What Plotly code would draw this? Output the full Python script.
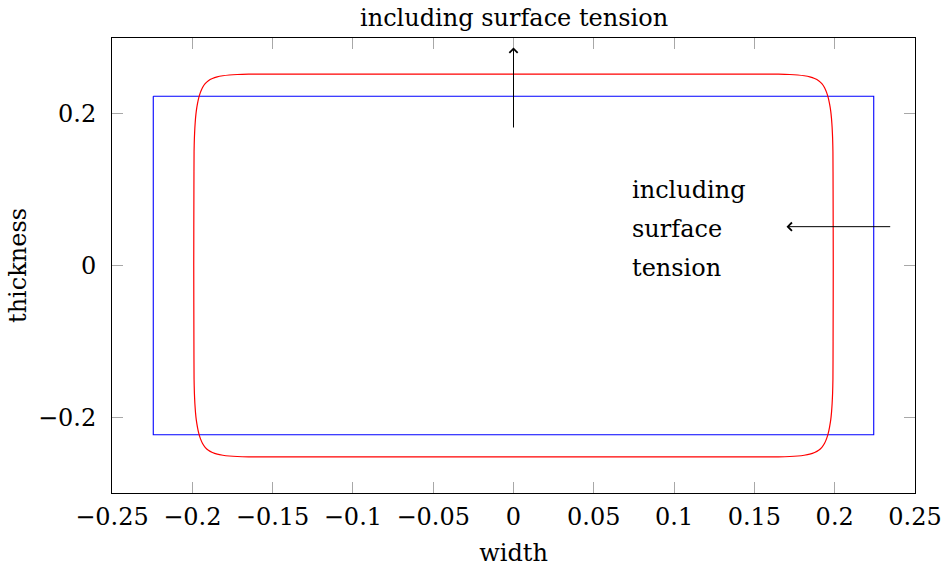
import plotly.graph_objects as go

# Cross-section without surface tension: a plain rectangle (half-width, half-thickness)
rect_half_width = 0.2243
rect_half_thickness = 0.2232

# Cross-section including surface tension: one quadrant of the contour,
# running from the top centre to the right-hand side centre
quad_x = [0.0, 0.100, 0.165, 0.172, 0.177, 0.181, 0.1845, 0.1875, 0.1900, 0.1920, 0.1937,
          0.1950, 0.1960, 0.1968, 0.1975, 0.1980, 0.1984, 0.1987, 0.1989, 0.1990, 0.1991]
quad_y = [0.2524, 0.2524, 0.2523, 0.2519, 0.2512, 0.2502, 0.2488, 0.2466, 0.2437, 0.2398,
          0.2345, 0.2280, 0.2210, 0.2130, 0.2040, 0.1940, 0.1820, 0.1680, 0.1500, 0.1000, 0.0]

# Arrow annotations (tail -> tip) in data units
up_arrow_tail = (0.0, 0.180)
up_arrow_tip = (0.0, 0.2875)
side_arrow_tail = (0.2355, 0.0512)
side_arrow_tip = (0.1700, 0.0512)

x_ticks = [-0.25, -0.2, -0.15, -0.1, -0.05, 0, 0.05, 0.1, 0.15, 0.2, 0.25]
x_tick_text = ["\u22120.25", "\u22120.2", "\u22120.15", "\u22120.1", "\u22120.05", "0",
               "0.05", "0.1", "0.15", "0.2", "0.25"]
y_ticks = [-0.2, 0, 0.2]
y_tick_text = ["\u22120.2", "0", "0.2"]

# Closed rectangle outline
rw, rh = rect_half_width, rect_half_thickness
rect_x = [-rw, rw, rw, -rw, -rw]
rect_y = [rh, rh, -rh, -rh, rh]

# Mirror the quadrant into the full closed contour
tr = list(zip(quad_x, quad_y))
br = [(x, -y) for x, y in reversed(tr)]
bl = [(-x, -y) for x, y in tr]
tl = [(-x, y) for x, y in reversed(tr)]
contour = tr + br[1:] + bl[1:] + tl[1:]
red_x = [p[0] for p in contour]
red_y = [p[1] for p in contour]

FONT = "DejaVu Serif"
FS = 24

fig = go.Figure()
fig.add_trace(go.Scatter(x=rect_x, y=rect_y, mode="lines",
                         line=dict(color="#0000ff", width=1.1), showlegend=False))
fig.add_trace(go.Scatter(x=red_x, y=red_y, mode="lines",
                         line=dict(color="#ff0000", width=1.2, shape="spline", smoothing=0.6),
                         showlegend=False))

arrow_common = dict(xref="x", yref="y", axref="x", ayref="y", text="", showarrow=True,
                    arrowhead=4, arrowsize=1.6, arrowwidth=1.0, arrowcolor="#000000",
                    standoff=0, startstandoff=0)
fig.add_annotation(x=up_arrow_tip[0], y=up_arrow_tip[1],
                   ax=up_arrow_tail[0], ay=up_arrow_tail[1], **arrow_common)
fig.add_annotation(x=side_arrow_tip[0], y=side_arrow_tip[1],
                   ax=side_arrow_tail[0], ay=side_arrow_tail[1], **arrow_common)

text_font = dict(family=FONT, size=FS, color="#000000")
fig.add_annotation(x=0.0, y=1.0, xref="x", yref="paper", text="including surface tension",
                   showarrow=False, xanchor="center", yanchor="bottom", yshift=4, font=text_font)
for line, ypos in zip(["including", "surface", "tension"], [0.0994, 0.0482, -0.0030]):
    fig.add_annotation(x=0.0727, y=ypos, xref="x", yref="y", text=line, showarrow=False,
                       xanchor="left", yanchor="middle", align="left", font=text_font)

axis_common = dict(showline=True, linecolor="#000000", linewidth=1, mirror="ticks",
                   ticks="inside", ticklen=11, tickcolor="#a8a8a8", tickwidth=1,
                   showgrid=False, zeroline=False, automargin=False,
                   tickfont=dict(family=FONT, size=FS, color="#000000"))

fig.update_xaxes(range=[-0.25, 0.25], tickvals=x_ticks, ticktext=x_tick_text,
                 title=dict(text="width", font=dict(family=FONT, size=FS), standoff=14),
                 ticklabelstandoff=2, **axis_common)
fig.update_yaxes(range=[-0.3, 0.3], tickvals=y_ticks, ticktext=y_tick_text,
                 title=dict(text="thickness", font=dict(family=FONT, size=FS), standoff=4),
                 ticklabelstandoff=10, **axis_common)

fig.update_layout(width=945, height=572, margin=dict(l=112, r=30, t=38, b=79),
                  plot_bgcolor="#ffffff", paper_bgcolor="#ffffff",
                  font=dict(family=FONT, size=FS, color="#000000"))

fig.write_html("out.html")
